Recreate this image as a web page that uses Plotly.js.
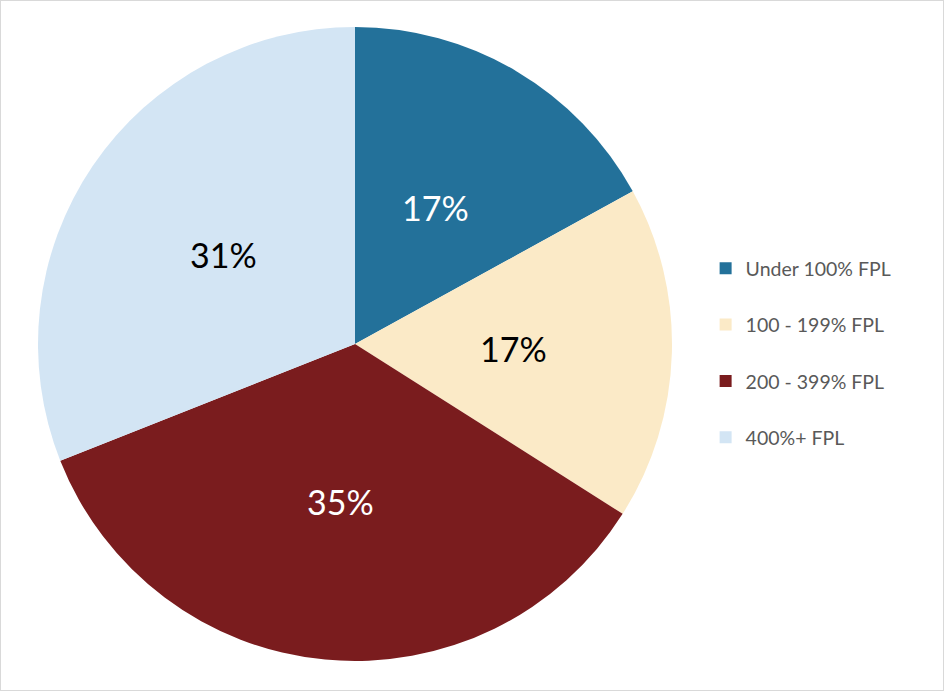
<!DOCTYPE html>
<html><head><meta charset="utf-8">
<script src="https://cdn.plot.ly/plotly-3.0.1.min.js"></script>
<style>html,body{margin:0;padding:0;background:#fff}#chart{width:944px;height:691px;box-sizing:border-box;border:1px solid #d9d9d9}</style>
</head><body><div id="chart"></div>
<script>
const categories = ["Under 100% FPL", "100 - 199% FPL", "200 - 399% FPL", "400%+ FPL"];
const shares = [17, 17, 35, 31];
const sliceColors = ["#23719a", "#fbeac7", "#7a1c1e", "#d3e5f4"];
const textColors = ["#ffffff", "#000000", "#ffffff", "#000000"];

const W = 942, H = 689;
const cx = 354, cy = 343, r = 317;
const labelFont = {family: "Lato, 'Open Sans', sans-serif", size: 34};

const traces = [{
  type: "pie",
  labels: categories,
  values: shares,
  sort: false,
  direction: "clockwise",
  rotation: 0,
  marker: {colors: sliceColors, line: {width: 0}},
  textinfo: "none",
  domain: {x: [(cx - r) / W, (cx + r) / W], y: [1 - (cy + r) / H, 1 - (cy - r) / H]},
  showlegend: false,
  hoverinfo: "label+percent"
}];
categories.forEach((c, i) => {
  traces.push({
    type: "scatter", mode: "markers", x: [null], y: [null], name: c,
    legendgroup: "g" + i,
    marker: {symbol: "square", size: 12, color: sliceColors[i]},
    showlegend: true
  });
});

// data labels: placed at half radius on each slice's bisector (derived from shares)
const total = shares.reduce((a, b) => a + b, 0);
let cum = 0;
const annotations = shares.map((v, i) => {
  const mid = (cum + v / 2) / total * 2 * Math.PI;
  cum += v;
  const px = cx + 0.5 * r * Math.sin(mid);
  const py = cy - 0.5 * r * Math.cos(mid);
  return {
    xref: "paper", yref: "paper", x: px / W, y: 1 - py / H,
    text: v + "%", showarrow: false, xanchor: "center", yanchor: "middle",
    font: Object.assign({}, labelFont, {color: textColors[i]})
  };
});

const layout = {
  width: W, height: H,
  margin: {l: 0, r: 0, t: 0, b: 0},
  paper_bgcolor: "#ffffff", plot_bgcolor: "rgba(0,0,0,0)",
  xaxis: {visible: false}, yaxis: {visible: false},
  showlegend: true,
  annotations: annotations,
  legend: {
    x: 0.748, y: 0.64, xanchor: "left", yanchor: "top",
    font: {family: "Lato, 'Open Sans', sans-serif", size: 19.5, color: "#595959"},
    tracegroupgap: 28, itemwidth: 30, bgcolor: "rgba(0,0,0,0)"
  }
};
Plotly.newPlot("chart", traces, layout, {displayModeBar: false, staticPlot: true});
</script></body></html>
